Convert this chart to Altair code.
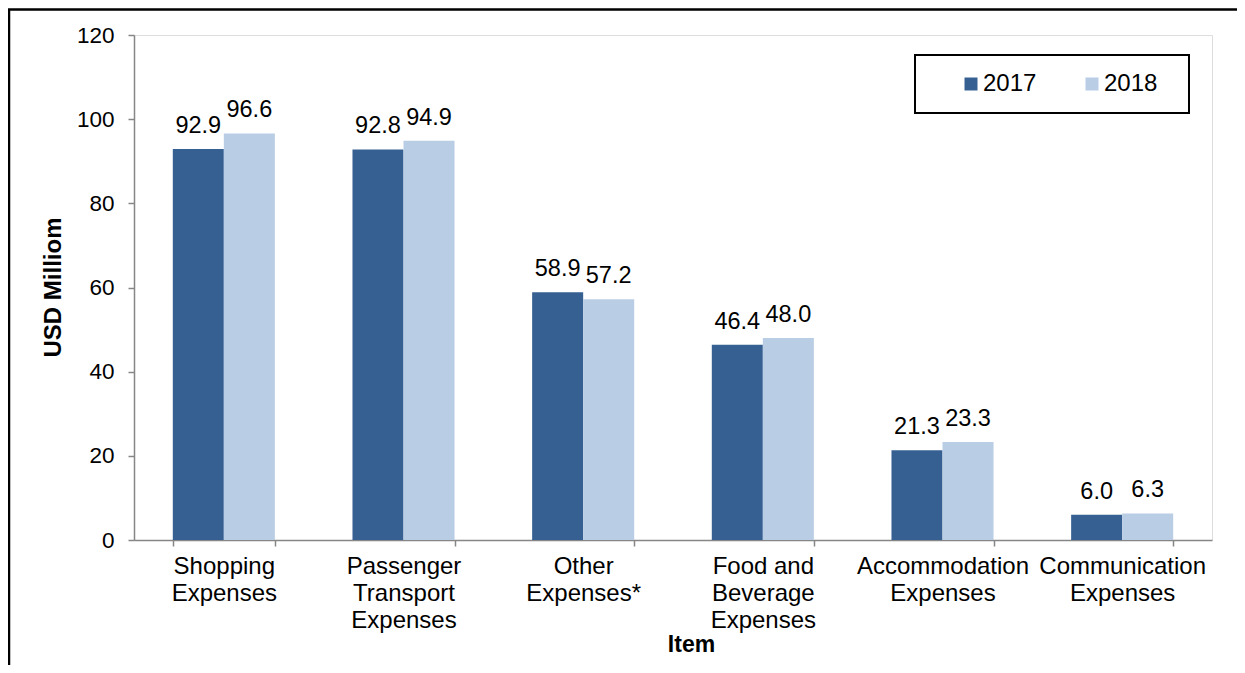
import altair as alt
import pandas as pd

categories = [
    "Shopping\nExpenses",
    "Passenger\nTransport\nExpenses",
    "Other\nExpenses*",
    "Food and\nBeverage\nExpenses",
    "Accommodation\nExpenses",
    "Communication\nExpenses",
]
years = ["2017", "2018"]
values_2017 = [92.9, 92.8, 58.9, 46.4, 21.3, 6.0]
values_2018 = [96.6, 94.9, 57.2, 48.0, 23.3, 6.3]
y_ticks = [0, 20, 40, 60, 80, 100, 120]
colors = ["#376092", "#B9CDE5"]

rows = []
for c, a, b in zip(categories, values_2017, values_2018):
    rows.append({"item": c, "year": "2017", "value": a})
    rows.append({"item": c, "year": "2018", "value": b})
df = pd.DataFrame(rows)

FONT = "Liberation Sans"
W, H = 1078, 505

base = alt.Chart(df).encode(
    x=alt.X(
        "item:N",
        sort=categories,
        scale=alt.Scale(paddingInner=0.432, paddingOuter=0.216),
        axis=alt.Axis(
            title="Item",
            labelExpr="split(datum.label, '\\n')",
            labelAngle=0,
            labelFont=FONT,
            labelFontSize=24,
            labelColor="black",
            labelLineHeight=27,
            labelBaseline="top",
            labelPadding=8,
            labelLimit=400,
            tickBand="extent",
            tickSize=6,
            tickColor="#868686",
            tickWidth=1.5,
            domainColor="#868686",
            domainWidth=1.5,
            titleFont=FONT,
            titleFontSize=23,
            titleFontWeight="bold",
            titleColor="black",
            titleX=557,
            titleY=111,
            titleBaseline="alphabetic",
        ),
    ),
    xOffset=alt.XOffset("year:N", sort=years, scale=alt.Scale(paddingInner=0, paddingOuter=0)),
    y=alt.Y(
        "value:Q",
        scale=alt.Scale(domain=[0, 120], nice=False),
        axis=alt.Axis(
            values=y_ticks,
            grid=False,
            title="USD Milliom",
            labelFont=FONT,
            labelFontSize=22.5,
            labelColor="black",
            labelPadding=14,
            tickSize=6,
            tickColor="#868686",
            tickWidth=1.5,
            domainColor="#868686",
            domainWidth=1.5,
            titleFont=FONT,
            titleFontSize=24,
            titleFontWeight="bold",
            titleColor="black",
            titleAngle=-90,
            titleX=-81,
            titleY=252,
            titleBaseline="middle",
            titleAlign="center",
        ),
    ),
)

bars = base.mark_bar().encode(
    color=alt.Color(
        "year:N",
        sort=years,
        scale=alt.Scale(domain=years, range=colors),
        legend=alt.Legend(
            orient="none",
            legendX=825,
            legendY=37,
            direction="horizontal",
            title=None,
            symbolType="square",
            symbolSize=169,
            symbolStrokeWidth=0,
            labelFont=FONT,
            labelFontSize=24,
            labelColor="black",
            labelOffset=0,
            columnPadding=43,
            padding=0,
        ),
    )
)

labels = base.mark_text(
    font=FONT, fontSize=23.5, color="black", baseline="alphabetic", dy=-16
).encode(text=alt.Text("value:Q", format=".1f"))

one = pd.DataFrame({"k": [0]})
legend_box = alt.Chart(one).mark_rect(
    fillOpacity=0, stroke="black", strokeWidth=2
).encode(
    x=alt.value(781), x2=alt.value(1055), y=alt.value(20), y2=alt.value(78)
)
frame = alt.Chart(one).mark_rect(
    fillOpacity=0, stroke="black", strokeWidth=2.5
).encode(
    x=alt.value(-125), x2=alt.value(1500), y=alt.value(-25.5), y2=alt.value(900)
)

chart = alt.layer(bars, labels, legend_box, frame).properties(
    width=W,
    height=H,
    autosize=alt.AutoSizeParams(type="none"),
    padding={"left": 126, "top": 27, "right": 25, "bottom": 125},
).configure_view(stroke=None).configure(background="white")

chart.save("out.html", embed_options={"renderer": "svg", "actions": False})
